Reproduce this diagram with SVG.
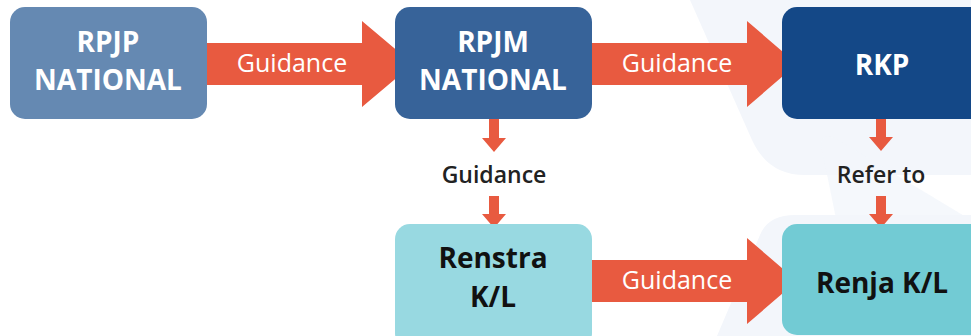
<svg xmlns="http://www.w3.org/2000/svg" width="971" height="336" viewBox="0 0 971 336">
<style>
.box{stroke:none}
.bt{font-family:"Open Sans","Liberation Sans",sans-serif;font-weight:700;font-size:28px;text-anchor:middle}
.w{fill:#ffffff}
.k{fill:#111111}
.al{font-family:"Open Sans","Liberation Sans",sans-serif;font-size:25px;fill:#ffffff;text-anchor:middle}
.lbl{font-family:"Open Sans","Liberation Sans",sans-serif;font-weight:600;font-size:23px;fill:#222222;text-anchor:middle}
.arr{fill:#E85A40}
.bg{fill:#F3F6FB}
</style>
<rect width="971" height="336" fill="#ffffff"/>
<g id="background">
<path class="bg" d="M690,0 L752,140 Q768,175 805,175 L971,175 L971,0 Z"/>
<path class="bg" d="M822,150 Q818,132 835,138 L971,220 L971,336 L860,336 Z" fill-opacity="0.8"/>
<path class="bg" d="M717,336 L760,235 Q768,215 795,215 L971,215 L971,336 Z"/>
</g>
<g id="connectors">
<path class="arr" d="M207,43 L362,43 L362,21 L413,64 L362,107 L362,85 L207,85 Z"/>
<path class="arr" d="M592,43 L747,43 L747,21 L797,64 L747,107 L747,85 L592,85 Z"/>
<path class="arr" d="M592,260 L747,260 L747,238 L797,281 L747,324 L747,302 L592,302 Z"/>
<path class="arr" d="M489,119 L499,119 L499,138 L506,138 L494,152 L482,138 L489,138 Z"/>
<path class="arr" d="M489,196 L499,196 L499,214 L506,214 L494,228 L482,214 L489,214 Z"/>
<path class="arr" d="M876,119 L886,119 L886,137 L893,137 L881,151 L869,137 L876,137 Z"/>
<path class="arr" d="M876,196 L886,196 L886,214 L893,214 L881,228 L869,214 L876,214 Z"/>
<text class="al" x="292" y="72">Guidance</text>
<text class="al" x="677" y="72">Guidance</text>
<text class="al" x="677" y="289">Guidance</text>
<text class="lbl" x="494" y="183">Guidance</text>
<text class="lbl" x="881" y="183">Refer to</text>
</g>
<g id="rpjp">
<rect class="box" x="10" y="7" width="197" height="112" rx="15" fill="#6589B2"/>
<text class="bt w" x="108" y="52">RPJP</text>
<text class="bt w" x="108" y="90">NATIONAL</text>
</g>
<g id="rpjm">
<rect class="box" x="395" y="7" width="197" height="112" rx="15" fill="#376399"/>
<text class="bt w" x="493" y="52">RPJM</text>
<text class="bt w" x="493" y="90">NATIONAL</text>
</g>
<g id="rkp">
<rect class="box" x="782" y="7" width="205" height="112" rx="15" fill="#144887"/>
<text class="bt w" x="882" y="75">RKP</text>
</g>
<g id="renstra">
<rect class="box" x="395" y="224" width="197" height="124" rx="15" fill="#98D9E1"/>
<text class="bt k" x="493" y="268">Renstra</text>
<text class="bt k" x="493" y="307">K/L</text>
</g>
<g id="renja">
<rect class="box" x="782" y="224" width="205" height="111" rx="15" fill="#72CBD4"/>
<text class="bt k" x="882" y="293">Renja K/L</text>
</g>
</svg>
